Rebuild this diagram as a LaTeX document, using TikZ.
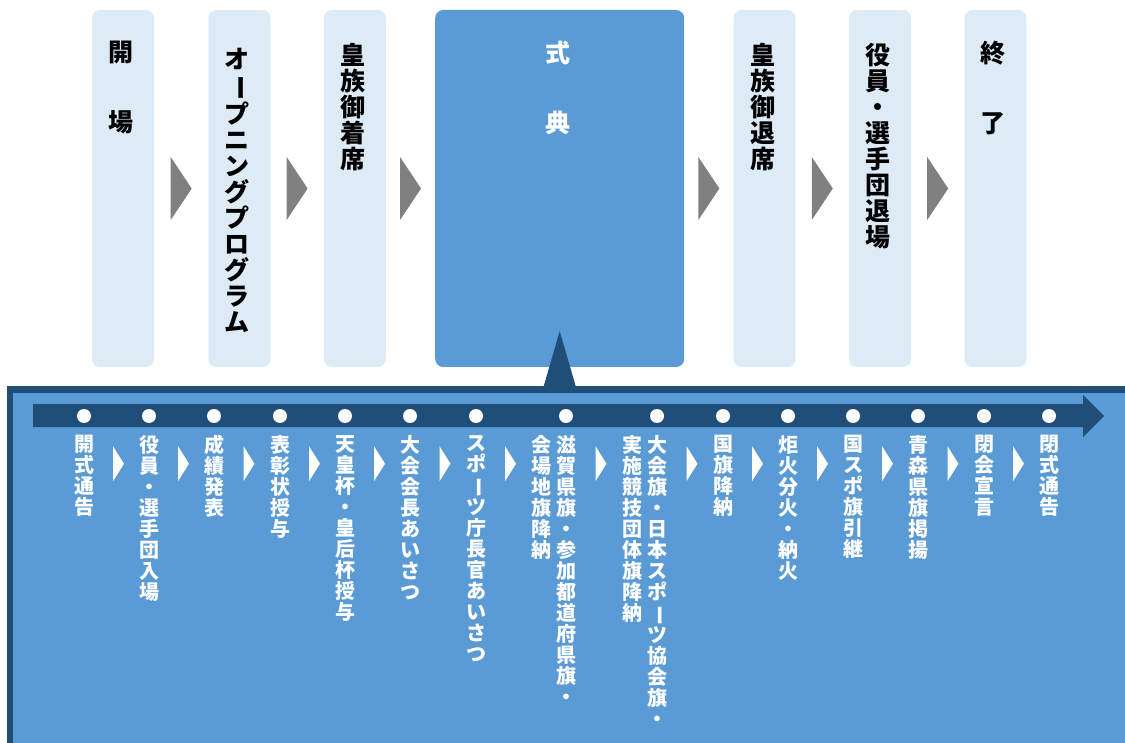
\documentclass[tikz,border=0pt]{standalone}
\usepackage{fontspec}
\usepackage{graphicx}
\newfontfamily\jp{Noto Sans CJK JP}
\usetikzlibrary{positioning,calc}
\definecolor{navy}{HTML}{1F4E79}
\definecolor{midblue}{HTML}{5B9BD5}
\definecolor{paleblue}{HTML}{DDEBF7}
\definecolor{arrowgray}{HTML}{808080}
\newcommand\tatebar{\rotatebox[origin=c]{-90}{ー}}

\begin{document}
\begin{tikzpicture}
                [x=1pt,y=-1pt,node distance=53pt,
                stage/.style={rounded corners=8pt,fill=paleblue,minimum width=62pt,minimum height=357pt,inner sep=0pt},
                bigstage/.style={stage,fill=midblue,minimum width=249pt},
                head/.style={font=\jp\bfseries\fontsize{25}{26}\selectfont,align=center,inner sep=0pt},
                item/.style={font=\jp\bfseries\fontsize{20}{21}\selectfont,text=white,align=center,inner sep=0pt},
                dot/.style={circle,fill=white,minimum size=14pt,inner sep=0pt}]
                \useasboundingbox (0,0) rectangle (1125,743);
                % lower panel
                \fill[navy] (7,386) rectangle (1125,743);
                \fill[midblue] (13,393) rectangle (1125,743);
                % upper stages
                \node[stage] (kaijo) at (123,188.5) {};
                \node[stage,node distance=54pt] (opening)[right=of kaijo]{};
                \node[stage] (chakuseki)[right=of opening]{};
                \node[bigstage,node distance=49pt] (shiki)[right=of chakuseki]{};
                \node[stage,node distance=49pt] (taiseki)[right=of shiki]{};
                \node[stage] (taijo)[right=of taiseki]{};
                \node[stage] (shuryo)[right=of taijo]{};
                \node[head,xshift=-2pt] (textkaijo)[below=31pt of kaijo.north]{開\\[44pt]場};
                \node[head,xshift=-2pt] (textopening)[below=38pt of opening.north]{オ\\\tatebar\\プ\\ニ\\ン\\グ\\プ\\ロ\\グ\\ラ\\ム};
                \node[head,xshift=-2pt] (textchakuseki)[below=33pt of chakuseki.north]{皇\\族\\御\\着\\席};
                \node[head,text=white,xshift=-2pt] (textshiki)[below=31pt of shiki.north]{式\\[44pt]典};
                \node[head,xshift=-2pt] (texttaiseki)[below=33pt of taiseki.north]{皇\\族\\御\\退\\席};
                \node[head,xshift=-2pt] (texttaijo)[below=33pt of taijo.north]{役\\員\\・\\選\\手\\団\\退\\場};
                \node[head,xshift=-2pt] (textshuryo)[below=31pt of shuryo.north]{終\\[44pt]了};
                \foreach \a/\b in {kaijo/opening,opening/chakuseki,chakuseki/shiki,shiki/taiseki,taiseki/taijo,taijo/shuryo}
                    \fill[arrowgray] ($(\a.east)!.5!(\b.west)$) +(-10.5,-31.5) -- +(10.5,0) -- +(-10.5,31.5) -- cycle;
                \fill[navy] ([xshift=-16pt,yshift=-19pt]shiki.south) -- ([yshift=36pt]shiki.south)
                    -- ([xshift=16pt,yshift=-19pt]shiki.south) -- cycle;
                % time line
                \fill[navy] (33,404) -- (1083,404) -- (1083,395) -- (1104,416) -- (1083,437)
                    -- (1083,427) -- (33,427) -- cycle;
                \node[dot] (d1) at (84,416){};
                \node[dot] (d2) at (149,416){};
                \node[dot] (d3) at (214,416){};
                \node[dot] (d4) at (280,416){};
                \node[dot] (d5) at (345,416){};
                \node[dot] (d6) at (410,416){};
                \node[dot] (d7) at (476,416){};
                \node[dot] (d8) at (566,416){};
                \node[dot] (d9) at (657,416){};
                \node[dot] (d10) at (723,416){};
                \node[dot] (d11) at (788,416){};
                \node[dot] (d12) at (853,416){};
                \node[dot] (d13) at (918,416){};
                \node[dot] (d14) at (984,416){};
                \node[dot] (d15) at (1049,416){};
                \node[item] (i1)[below=12pt of d1]{開\\式\\通\\告};
                \node[item] (i2)[below=12pt of d2]{役\\員\\・\\選\\手\\団\\入\\場};
                \node[item] (i3)[below=12pt of d3]{成\\績\\発\\表};
                \node[item] (i4)[below=12pt of d4]{表\\彰\\状\\授\\与};
                \node[item] (i5)[below=12pt of d5]{天\\皇\\杯\\・\\皇\\后\\杯\\授\\与};
                \node[item] (i6)[below=12pt of d6]{大\\会\\会\\長\\あ\\い\\さ\\つ};
                \node[item] (i7)[below=12pt of d7]{ス\\ポ\\\tatebar\\ツ\\庁\\長\\官\\あ\\い\\さ\\つ};
                \node[item] (i8a)[below=12pt of d8]{滋\\賀\\県\\旗\\・\\参\\加\\都\\道\\府\\県\\旗\\・};
                \node[item,xshift=-25pt] (i8b)[below=12pt of d8]{会\\場\\地\\旗\\降\\納};
                \node[item] (i9a)[below=12pt of d9]{大\\会\\旗\\・\\日\\本\\ス\\ポ\\\tatebar\\ツ\\協\\会\\旗\\・};
                \node[item,xshift=-25pt] (i9b)[below=12pt of d9]{実\\施\\競\\技\\団\\体\\旗\\降\\納};
                \node[item] (i10)[below=12pt of d10]{国\\旗\\降\\納};
                \node[item] (i11)[below=12pt of d11]{炬\\火\\分\\火\\・\\納\\火};
                \node[item] (i12)[below=12pt of d12]{国\\ス\\ポ\\旗\\引\\継};
                \node[item] (i13)[below=12pt of d13]{青\\森\\県\\旗\\掲\\揚};
                \node[item] (i14)[below=12pt of d14]{閉\\会\\宣\\言};
                \node[item] (i15)[below=12pt of d15]{閉\\式\\通\\告};
                \foreach \a/\b in {i1/i2,i2/i3,i3/i4,i4/i5,i5/i6,i6/i7,i7/i8b,i8a/i9b,i9a/i10,i10/i11,i11/i12,i12/i13,i13/i14,i14/i15}
                    \fill[white] ($(\a.north)!.5!(\b.north)$) +(-3.5,11) -- +(7.5,28.5) -- +(-3.5,46) -- cycle;
\end{tikzpicture}
\end{document}
